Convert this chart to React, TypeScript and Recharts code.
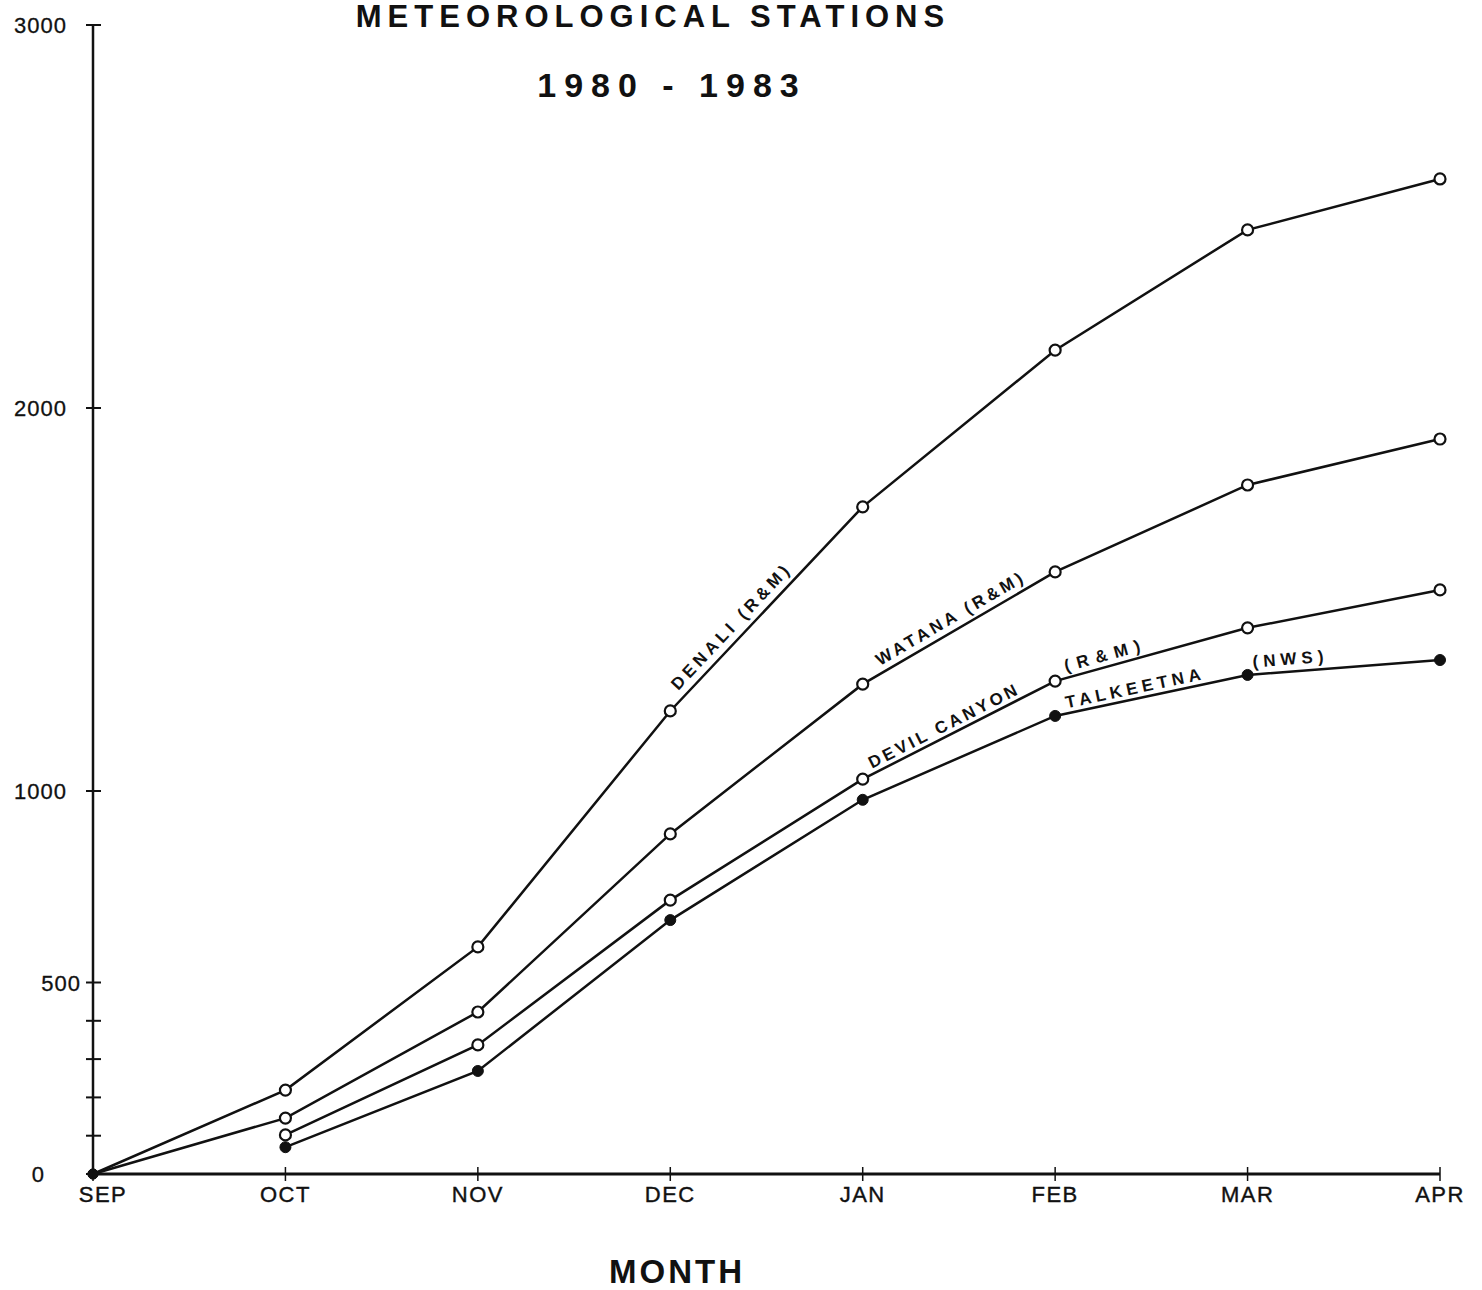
import React from "react";
import { LineChart, Line, XAxis, YAxis, LabelList } from "recharts";

const months = ["SEP", "OCT", "NOV", "DEC", "JAN", "FEB", "MAR", "APR"];
const denali = [0, 219, 593, 1209, 1742, 2151, 2465, 2598];
const watana = [0, 146, 423, 888, 1279, 1572, 1799, 1919];
const devilCanyon = [null, 102, 337, 715, 1031, 1287, 1426, 1525];
const talkeetna = [null, 70, 269, 663, 977, 1196, 1303, 1342];
const yTicks = [0, 100, 200, 300, 400, 500, 1000, 2000, 3000];
const yLabelled = [0, 500, 1000, 2000, 3000];

const data = months.map((m, i) => ({
  month: m,
  denali: denali[i],
  watana: watana[i],
  devil: devilCanyon[i],
  talkeetna: talkeetna[i],
}));

const W = 1482;
const H = 1290;
const margin = { top: 25, right: 42, bottom: 56, left: 33 };
const Y_AXIS_W = 60;
const X_AXIS_H = 60;
const plotW = W - margin.left - Y_AXIS_W - margin.right;
const plotH = H - margin.top - margin.bottom - X_AXIS_H;
const pxPerCat = plotW / (months.length - 1);
const pxPerUnit = plotH / 3000;

const FONT = "'Liberation Sans', Arial, sans-serif";
const INK = "#111";

// text laid along the segment that starts at point `idx`
function segLabel(text: string, idx: number, series: (number | null)[], along: number, gap: number, spacing = 4) {
  return (props: any) => {
    if (props.index !== idx) return null;
    const a = series[idx] as number;
    const b = series[idx + 1] as number;
    const ang = Math.atan2(-(b - a) * pxPerUnit, pxPerCat);
    const c = Math.cos(ang);
    const s = Math.sin(ang);
    const x = props.x + c * along + s * gap;
    const y = props.y + s * along - c * gap;
    return (
      <text
        key={`lbl-${text}`}
        x={x}
        y={y}
        transform={`rotate(${(ang * 180) / Math.PI}, ${x}, ${y})`}
        fontFamily={FONT}
        fontWeight={700}
        fontSize={17}
        letterSpacing={spacing}
        fill={INK}
      >
        {text}
      </text>
    );
  };
}

const openDot = (props: any) => {
  const { cx, cy, index, value } = props;
  if (cx == null || cy == null || value == null) return <g key={`d-${index}`} />;
  if (index === 0)
    return <circle key={`d-${index}`} cx={cx} cy={cy} r={5} fill={INK} stroke={INK} />;
  return <circle key={`d-${index}`} cx={cx} cy={cy} r={5.5} fill="#fff" stroke={INK} strokeWidth={2.2} />;
};

const solidDot = (props: any) => {
  const { cx, cy, index, value } = props;
  if (cx == null || cy == null || value == null) return <g key={`s-${index}`} />;
  return <circle key={`s-${index}`} cx={cx} cy={cy} r={5.5} fill={INK} stroke={INK} />;
};

const XTick = (props: any) => {
  const { x, y, payload } = props;
  return (
    <g>
      <line x1={x} x2={x} y1={y - 7} y2={y + 7} stroke={INK} strokeWidth={1.5} />
      <text
        x={x + (payload.index === 0 ? 10 : 0)}
        y={y + 28}
        textAnchor="middle"
        fontFamily={FONT}
        fontSize={22}
        letterSpacing={1.5}
        stroke={INK}
        strokeWidth={0.4}
        fill={INK}
      >
        {payload.value}
      </text>
    </g>
  );
};

const YTick = (props: any) => {
  const { x, y, payload } = props;
  const v = payload.value;
  const show = yLabelled.includes(v);
  return (
    <g>
      <line x1={x - 7} x2={x + 8} y1={y} y2={y} stroke={INK} strokeWidth={2} />
      {show && (
        <text
          x={v === 0 ? x - 48 : v === 500 ? x - 12 : x - 26}
          y={y + 8}
          textAnchor="end"
          fontFamily={FONT}
          fontSize={22}
          letterSpacing={1}
          stroke={INK}
          strokeWidth={0.3}
          fill={INK}
        >
          {v}
        </text>
      )}
    </g>
  );
};

export default function App() {
  return (
    <div style={{ position: "absolute", left: 0, top: 0, width: W, height: H, background: "#fff" }}>
      <LineChart width={W} height={H} data={data} margin={margin}>
        <XAxis
          dataKey="month"
          height={X_AXIS_H}
          axisLine={{ stroke: INK, strokeWidth: 3 }}
          tickLine={false}
          tickSize={0}
          tickMargin={0}
          tick={<XTick />}
          interval={0}
        />
        <YAxis
          width={Y_AXIS_W}
          domain={[0, 3000]}
          ticks={yTicks}
          axisLine={{ stroke: INK, strokeWidth: 2.5 }}
          tickLine={false}
          tickSize={0}
          tickMargin={0}
          tick={<YTick />}
          interval={0}
        />
        <Line dataKey="denali" stroke={INK} strokeWidth={2.5} dot={openDot} isAnimationActive={false}>
          <LabelList content={segLabel("DENALI (R&M)", 3, denali, 20, 8, 4.1)} />
        </Line>
        <Line dataKey="watana" stroke={INK} strokeWidth={2.5} dot={openDot} isAnimationActive={false}>
          <LabelList content={segLabel("WATANA (R&M)", 4, watana, 24, 7, 3.7)} />
        </Line>
        <Line dataKey="devil" stroke={INK} strokeWidth={2.5} dot={openDot} isAnimationActive={false}>
          <LabelList content={segLabel("DEVIL CANYON", 4, devilCanyon, 13, 5, 3.3)} />
          <LabelList content={segLabel("(R&M)", 5, devilCanyon, 13, 6, 7)} />
        </Line>
        <Line dataKey="talkeetna" stroke={INK} strokeWidth={2.5} dot={solidDot} isAnimationActive={false}>
          <LabelList content={segLabel("TALKEETNA", 5, talkeetna, 13, 5, 4.5)} />
          <LabelList content={segLabel("(NWS)", 6, talkeetna, 6, 7, 5)} />
        </Line>
      </LineChart>
      <svg width={W} height={H} style={{ position: "absolute", left: 0, top: 0, pointerEvents: "none" }}>
        <text x={653} y={27} textAnchor="middle" fontFamily={FONT} fontWeight={700} fontSize={31} letterSpacing={6} fill={INK}>
          METEOROLOGICAL STATIONS
        </text>
        <text x={672} y={97} textAnchor="middle" fontFamily={FONT} fontWeight={700} fontSize={34} letterSpacing={8} fill={INK}>
          1980 - 1983
        </text>
        <text x={677} y={1283} textAnchor="middle" fontFamily={FONT} fontWeight={700} fontSize={33} letterSpacing={3} fill={INK}>
          MONTH
        </text>
      </svg>
    </div>
  );
}
